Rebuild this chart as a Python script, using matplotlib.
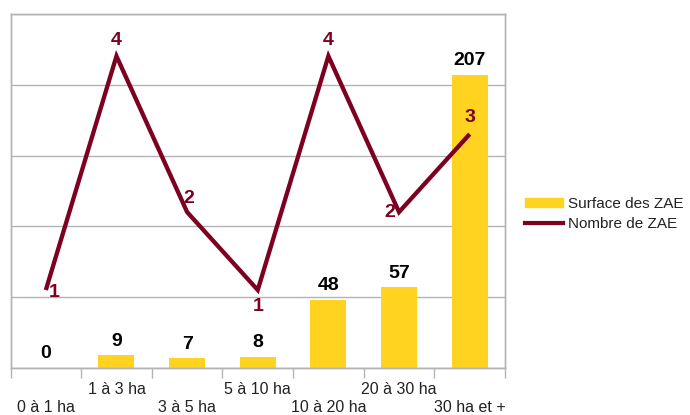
import matplotlib.pyplot as plt
from matplotlib.patches import Patch
from matplotlib.lines import Line2D

plt.rcParams['font.family'] = ['Liberation Sans', 'DejaVu Sans']

categories = ['0 à 1 ha', '1 à 3 ha', '3 à 5 ha', '5 à 10 ha',
              '10 à 20 ha', '20 à 30 ha', '30 ha et +']
surface = [0, 9, 7, 8, 48, 57, 207]
nombre = [1, 4, 2, 1, 4, 2, 3]

bar_color = '#FFD320'
line_color = '#7E0021'
grid_color = '#b3b3b3'

# label offsets (points) for the line values, as placed in the original
line_offsets = [(6, -2), (0, 11), (1, 10), (0, -12), (0, 11), (-7, 0), (0, 12)]

fig = plt.figure(figsize=(6.9, 4.15), dpi=100)
ax1 = fig.add_axes([10.5 / 690, 47 / 415, 494.5 / 690, 354 / 415])
ax2 = ax1.twinx()

x = list(range(len(categories)))
ax1.bar(x, surface, width=0.51, color=bar_color, zorder=2)
ax1.set_xlim(-0.5, len(categories) - 0.5)
ax1.set_ylim(0, 250)
ax1.set_yticks([0, 50, 100, 150, 200, 250])
ax1.set_yticklabels([])
ax1.tick_params(axis='y', length=0)
ax1.grid(axis='y', color=grid_color, linewidth=1, zorder=0)
ax1.set_axisbelow(True)

for xi, v in zip(x, surface):
    ax1.annotate(str(v), (xi, v), xytext=(0, 4), textcoords='offset points',
                 ha='center', va='bottom', fontsize=14, fontweight='bold',
                 color='black')

ax2.plot(x, nombre, color=line_color, linewidth=3.1,
         solid_joinstyle='miter', solid_capstyle='butt', zorder=3)
ax2.set_ylim(0, 4.54)
ax2.set_yticks([])

for xi, v, off in zip(x, nombre, line_offsets):
    ax2.annotate(str(v), (xi, v), xytext=off, textcoords='offset points',
                 ha='center', va='center', fontsize=14, fontweight='bold',
                 color=line_color)

for ax in (ax1, ax2):
    for s in ax.spines.values():
        s.set_color(grid_color)
        s.set_linewidth(1)

# category boundaries as ticks, labels staggered in two rows
ax1.set_xticks([i - 0.5 for i in range(len(categories) + 1)], minor=True)
ax1.tick_params(axis='x', which='minor', length=7, color=grid_color, width=1)
ax1.set_xticks(x)
ax1.set_xticklabels(categories, fontsize=11.5, color='#222222')
ax1.tick_params(axis='x', which='major', length=0)
for i, t in enumerate(ax1.xaxis.get_major_ticks()):
    t.set_pad(10 if i % 2 == 1 else 23)

handles = [Patch(color=bar_color), Line2D([], [], color=line_color, linewidth=3)]
leg = fig.legend(handles, ['Surface des ZAE', 'Nombre de ZAE'], loc='center left',
                 bbox_to_anchor=(525 / 690, 1 - 214 / 415), frameon=False,
                 fontsize=11, handlelength=2.5, handleheight=0.55, handletextpad=0.3,
                 labelspacing=0.45, borderpad=0, borderaxespad=0)
for t in leg.get_texts():
    t.set_color('#222222')

fig.savefig('out.png', dpi=100)
